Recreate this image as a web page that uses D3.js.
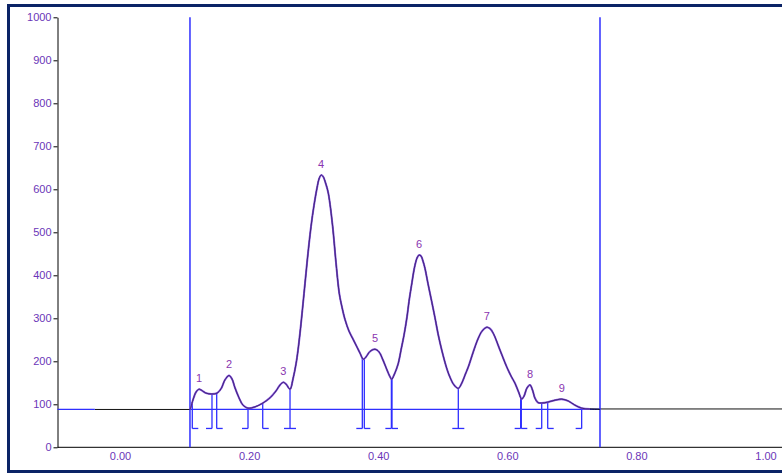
<!DOCTYPE html>
<html>
<head>
<meta charset="utf-8">
<script src="https://cdn.jsdelivr.net/npm/d3@7"></script>
<style>
  html, body { margin: 0; padding: 0; background: #fff; }
  svg { display: block; }
  text { font-family: "Liberation Sans", Arial, sans-serif; }
</style>
</head>
<body>
<svg id="chart" width="782" height="474"></svg>
<script>
// ---- data ----
const time = [0.1084, 0.110, 0.113, 0.118, 0.1224, 0.127, 0.1332, 0.1425, 0.1503,
  0.1565, 0.1627, 0.1689, 0.1735, 0.1782, 0.1844, 0.1906, 0.1983, 0.2091, 0.2215,
  0.2324, 0.2417, 0.2479, 0.2530, 0.2572, 0.2634, 0.2680, 0.2727, 0.2758, 0.2799,
  0.2851, 0.2902, 0.2959, 0.3006, 0.3052, 0.3083, 0.3114, 0.3145, 0.3184, 0.3227,
  0.3295, 0.3342, 0.3397, 0.3439, 0.3486, 0.3548, 0.3615, 0.3672, 0.3718, 0.3769,
  0.3811, 0.3873, 0.3950, 0.4012, 0.4074, 0.4136, 0.4183, 0.4209, 0.4245, 0.4311,
  0.4353, 0.4400, 0.4446, 0.4477, 0.4524, 0.4559, 0.4601, 0.4632, 0.4663, 0.4694,
  0.4725, 0.4772, 0.4829, 0.4880, 0.4931, 0.4988, 0.5061, 0.5112, 0.5174, 0.5241,
  0.5294, 0.5345, 0.5396, 0.5473, 0.5546, 0.5608, 0.5681, 0.5732, 0.5783, 0.5887,
  0.5991, 0.6057, 0.6119, 0.6174, 0.6223, 0.6259, 0.6305, 0.6352, 0.6391, 0.6429,
  0.6476, 0.6533, 0.6626, 0.6724, 0.6843, 0.6941, 0.7049, 0.7152, 0.7281, 0.7436];
const signal = [88, 94, 110, 129, 135, 132, 126, 124, 126,
  136, 157, 167, 159, 138, 115, 98, 91, 94, 103,
  115, 131, 145, 151, 147, 135, 159, 194, 226, 280,
  358, 436, 513, 563, 603, 624, 633, 630, 615, 591,
  513, 436, 358, 326, 297, 270, 250, 233, 219, 205,
  210, 223, 228, 222, 203, 180, 164, 158, 168, 195,
  226, 261, 303, 339, 384, 416, 440, 447, 445, 433,
  416, 380, 339, 301, 261, 224, 184, 163, 145, 137,
  149, 168, 187, 222, 252, 270, 279, 276, 265, 226,
  187, 166, 149, 129, 112, 119, 138, 145, 133, 114,
  104, 103, 105, 109, 112, 108, 98, 91, 89, 88];

const baselineValue = 88;
const windowStart = 0.1084;
const windowEnd = 0.7436;
const traceStart = -0.039;   // raw trace begins here (left of window)
const traceEnd = 1.06;

const peakNames = ["1", "2", "3", "4", "5", "6", "7", "8", "9"];
const peakTimes = [0.1224, 0.1689, 0.2530, 0.3114, 0.3950, 0.4632, 0.5681, 0.6352, 0.6843];
const peakHeights = [135, 167, 151, 633, 228, 447, 279, 145, 112];

const markerTimes = [0.1120, 0.1425, 0.1498, 0.1983, 0.2211, 0.2634, 0.3754, 0.3785,
  0.4204, 0.4214, 0.5241, 0.6207, 0.6217, 0.6533, 0.6626, 0.7152];
const markerTypes = ["start", "end", "start", "end", "start", "both", "end", "start",
  "end", "start", "both", "end", "start", "end", "start", "end"];

const yTicks = [0, 100, 200, 300, 400, 500, 600, 700, 800, 900, 1000];
const xTicks = [0, 0.2, 0.4, 0.6, 0.8, 1.0];

// ---- drawing ----
const svg = d3.select("#chart");
const x = d3.scaleLinear().domain([0, 1]).range([120, 765.5]);
const y = d3.scaleLinear().domain([0, 1000]).range([447.3, 17.3]);

const labelColor = "#6b35b8";
const peakColor = "#8a35b0";
const blue = "#2f2fff";

// frame
svg.append("rect").attr("x", 8.5).attr("y", 5.5).attr("width", 820).attr("height", 466)
  .attr("fill", "#fff").attr("stroke", "#0b2366").attr("stroke-width", 3);

// y axis
const yAxis = svg.append("g").attr("transform", "translate(57.5,0)")
  .call(d3.axisLeft(y).tickValues(yTicks).tickFormat(d3.format("d")).tickSize(4).tickSizeOuter(0).tickPadding(2));
yAxis.select(".domain").attr("stroke", "#000");
yAxis.selectAll(".tick line").attr("stroke", "#000");
yAxis.selectAll("text").attr("fill", labelColor).attr("font-size", 11)
  .attr("font-family", "Liberation Sans, Arial, sans-serif");

// x axis
const xAxis = svg.append("g").attr("transform", "translate(0,447.3)")
  .call(d3.axisBottom(x).tickValues(xTicks).tickFormat(d3.format(".2f")).tickSize(0).tickPadding(5));
xAxis.select(".domain").remove();
xAxis.selectAll("text").attr("fill", labelColor).attr("font-size", 11)
  .attr("font-family", "Liberation Sans, Arial, sans-serif");
svg.append("line").attr("x1", 57.5).attr("x2", 790).attr("y1", 447.3).attr("y2", 447.3)
  .attr("stroke", "#000").attr("stroke-width", 1);

const pts = time.map((t, i) => [t, signal[i]]);
const line = d3.line().x(d => x(d[0])).y(d => y(d[1])).curve(d3.curveCatmullRom.alpha(0.5));
const yb = y(baselineValue);

// raw trace (black) outside the window: flat at baseline
svg.append("line").attr("x1", x(traceStart)).attr("x2", x(windowStart))
  .attr("y1", yb).attr("y2", yb).attr("stroke", "#111").attr("stroke-width", 1);
svg.append("line").attr("x1", x(0.715)).attr("x2", x(traceEnd))
  .attr("y1", yb - 0.5).attr("y2", yb - 0.5).attr("stroke", "#111").attr("stroke-width", 1);

// blue baseline pieces
svg.append("line").attr("x1", 57.5).attr("x2", x(traceStart))
  .attr("y1", yb).attr("y2", yb).attr("stroke", blue).attr("stroke-width", 1.2);
svg.append("line").attr("x1", x(windowStart)).attr("x2", x(windowEnd))
  .attr("y1", yb).attr("y2", yb).attr("stroke", blue).attr("stroke-width", 1.2);

// window verticals
[windowStart, windowEnd].forEach(t => {
  svg.append("line").attr("x1", x(t)).attr("x2", x(t)).attr("y1", y(1000)).attr("y2", y(0))
    .attr("stroke", blue).attr("stroke-width", 1.5);
});

// integration markers
function valueAt(t) {
  const i = d3.bisector(d => d).right(time, t);
  if (i <= 0) return signal[0];
  if (i >= time.length) return signal[signal.length - 1];
  const t0 = time[i - 1], t1 = time[i];
  const f = (t - t0) / (t1 - t0);
  return signal[i - 1] + f * (signal[i] - signal[i - 1]);
}
const markBottom = yb + 19;
const mk = svg.append("g").attr("stroke", blue).attr("stroke-width", 1.3).attr("fill", "none");
markerTimes.forEach((t, i) => {
  const px = x(t);
  mk.append("line").attr("x1", px).attr("x2", px).attr("y1", y(valueAt(t))).attr("y2", markBottom);
  const type = markerTypes[i];
  const a = type === "start" ? px : px - 6;
  const b = type === "end" ? px : px + 6;
  mk.append("line").attr("x1", a).attr("x2", b).attr("y1", markBottom).attr("y2", markBottom);
});

// purple processed trace within window
const inWin = pts.filter(d => d[0] <= 0.7281);
svg.append("path").datum(pts).attr("d", line).attr("fill", "none")
  .attr("stroke", "#111").attr("stroke-width", 1);
svg.append("path").datum(inWin).attr("d", line).attr("fill", "none")
  .attr("stroke", "#8656dc").attr("stroke-width", 2).attr("stroke-linejoin", "round");
svg.append("path").datum(inWin).attr("d", line).attr("fill", "none")
  .attr("stroke", "#2d1660").attr("stroke-width", 0.8).attr("stroke-linejoin", "round");

// peak labels
svg.append("g").selectAll("text").data(peakNames).join("text")
  .attr("x", (d, i) => x(peakTimes[i]))
  .attr("y", (d, i) => y(peakHeights[i]) - 7)
  .attr("text-anchor", "middle")
  .attr("font-size", 11)
  .attr("fill", peakColor)
  .text(d => d);
</script>
</body>
</html>
